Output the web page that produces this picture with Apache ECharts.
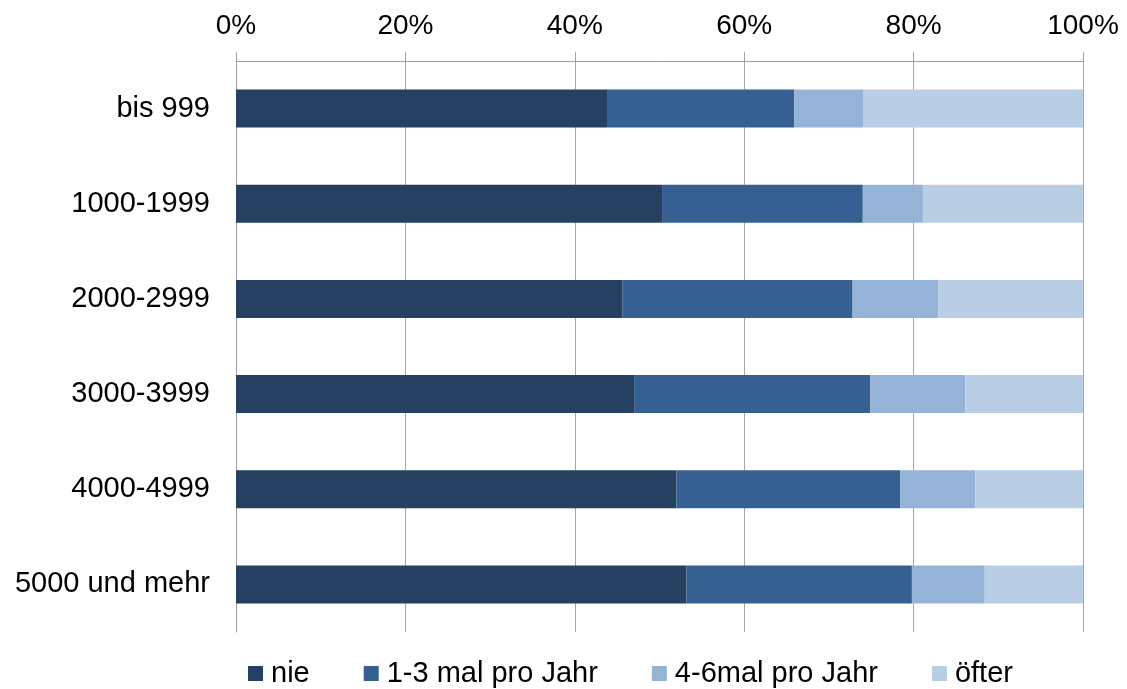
<!DOCTYPE html>
<html>
<head>
<meta charset="utf-8">
<script src="https://cdn.jsdelivr.net/npm/echarts@6/dist/echarts.min.js"></script>
<style>
  html, body { margin: 0; padding: 0; background: #fff; }
  #main { width: 1127px; height: 689px; }
</style>
</head>
<body>
<div id="main"></div>
<script>
// Einkommensklassen (von oben nach unten)
var categories = ['bis 999', '1000-1999', '2000-2999', '3000-3999', '4000-4999', '5000 und mehr'];
var seriesNames = ['nie', '1-3 mal pro Jahr', '4-6mal pro Jahr', 'öfter'];

// Anteile in %
var nie      = [43.9, 50.3, 45.6, 47.0, 52.0, 53.2];
var mal13    = [22.0, 23.7, 27.2, 27.9, 26.4, 26.6];
var mal46    = [8.2, 7.1, 10.1, 11.2, 8.9, 8.6];
var oefter   = [25.9, 18.9, 17.1, 13.9, 12.7, 11.6];

var tickLabels = ['0%', '20%', '40%', '60%', '80%', '100%'];

var colors = ['#264061', '#376092', '#95b3d7', '#b9cde5'];

var chartDom = document.getElementById('main');
var myChart = echarts.init(chartDom);

var values = [nie, mal13, mal46, oefter];
var series = seriesNames.map(function (name, i) {
  return {
    name: name,
    type: 'bar',
    stack: 'total',
    barWidth: 38,
    animation: false,
    itemStyle: { color: colors[i] },
    data: values[i]
  };
});

var option = {
  backgroundColor: '#fff',
  color: colors,
  textStyle: { fontFamily: 'Liberation Sans, Arial, sans-serif' },
  grid: { left: 236, right: 44, top: 61, bottom: 57 },
  legend: {
    data: seriesNames,
    left: 243,
    top: 654,
    itemWidth: 15,
    itemHeight: 15,
    itemGap: 54,
    icon: 'rect',
    textStyle: {
      fontSize: 29,
      color: '#000',
      padding: [0, 0, 0, 3],
      fontFamily: 'Liberation Sans, Arial, sans-serif'
    }
  },
  xAxis: {
    type: 'value',
    position: 'top',
    min: 0,
    max: 100,
    interval: 20,
    axisLine: { show: true, lineStyle: { color: '#a0a0a0', width: 1 } },
    axisTick: { show: true, length: 9, lineStyle: { color: '#a0a0a0' } },
    splitLine: { show: true, lineStyle: { color: '#a6a6a6', width: 1 } },
    axisLabel: {
      margin: 21,
      fontSize: 28,
      color: '#000',
      formatter: function (v) { return tickLabels[Math.round(v / 20)]; }
    }
  },
  yAxis: {
    type: 'category',
    inverse: true,
    data: categories,
    axisLine: { show: true, lineStyle: { color: '#a0a0a0', width: 1 } },
    axisTick: { show: false },
    axisLabel: { margin: 26, fontSize: 29, color: '#000' }
  },
  series: series
};

option && myChart.setOption(option);
</script>
</body>
</html>
